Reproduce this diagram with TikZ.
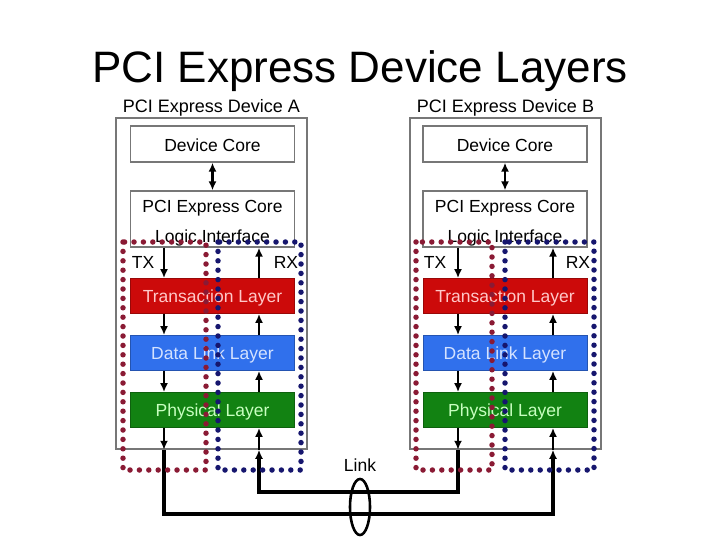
\documentclass[tikz,border=0pt]{standalone}
\usepackage{fontspec}
\setmainfont{Liberation Sans}
\usetikzlibrary{arrows.meta,shapes.geometric}
\definecolor{tlred}{HTML}{CC0A0A}
\definecolor{tltext}{HTML}{FFC8C8}
\definecolor{dlblue}{HTML}{3070EC}
\definecolor{dltext}{HTML}{D4E2FF}
\definecolor{plgreen}{HTML}{128212}
\definecolor{pltext}{HTML}{C8FFC0}
\definecolor{dotred}{HTML}{8A1A34}
\definecolor{dotblue}{HTML}{16166E}
\definecolor{boxgray}{HTML}{777777}
\tikzset{
  devbox/.style={draw=boxgray, line width=1.5pt, minimum width=191pt, minimum height=331pt, inner sep=0pt},
  corebox/.style={draw=boxgray, line width=1.3pt, fill=white, minimum width=164pt, inner sep=0pt, font=\fontsize{17.5}{20}\selectfont},
  layerbox/.style={draw=#1!75!black, line width=0.8pt, fill=#1, minimum width=164pt, minimum height=35pt, inner sep=0pt, text height=13pt, text depth=0pt, font=\fontsize{17.5}{20}\selectfont},
  lbl/.style={font=\fontsize{17.5}{20}\selectfont, anchor=base, inner sep=0pt},
  devlbl/.style={font=\fontsize{18}{21}\selectfont, anchor=base, inner sep=0pt},
  arr/.style={line width=2.6pt, -{Latex[length=9pt,width=8pt]}},
  dblarr/.style={line width=2.6pt, {Latex[length=9pt,width=8pt]}-{Latex[length=9pt,width=8pt]}},
  linkline/.style={line width=3.2pt, -{Latex[length=9pt,width=8pt]}},
  dotbox/.style={draw=#1, line width=5.5pt, line cap=round, dash pattern=on 0pt off 9.4pt}
}
\begin{document}
\begin{tikzpicture}[x=1pt,y=-1pt]
\useasboundingbox (0,0) rectangle (720,540);

% title
\node[font=\fontsize{44}{50}\selectfont, anchor=base, inner sep=0pt] (title) at (360,83) {PCI Express Device Layers};

% devices
\node[devbox] (devA) at (211.5,283.5) {};
\node[devbox] (devB) at (505.5,283.5) {};
\node[devlbl] (labA) at (211.5,113) {PCI Express Device A};
\node[devlbl] (labB) at (505.5,113) {PCI Express Device B};

% device A inner
\node[corebox, minimum height=36pt] (dcA) at (212.5,144) {};
\node[lbl] (dctA) at (212.5,152) {Device Core};
\node[corebox, minimum height=56pt] (pcA) at (212.5,219) {};
\node[lbl] (pctA) at (212.5,213) {PCI Express Core};
\node[lbl] (liA) at (212.5,243) {Logic Interface};
\node[layerbox=tlred, text=tltext] (tlA) at (212.5,296) {Transaction Layer};
\node[layerbox=dlblue, text=dltext] (dlA) at (212.5,353) {Data Link Layer};
\node[layerbox=plgreen, text=pltext] (plA) at (212.5,410) {Physical Layer};
\node[lbl] (txlA) at (143,268) {TX};
\node[lbl] (rxlA) at (286,268) {RX};

% device B inner
\node[corebox, minimum height=36pt] (dcB) at (505,144) {};
\node[lbl] (dctB) at (505,152) {Device Core};
\node[corebox, minimum height=56pt] (pcB) at (505,219) {};
\node[lbl] (pctB) at (505,213) {PCI Express Core};
\node[lbl] (liB) at (505,243) {Logic Interface};
\node[layerbox=tlred, text=tltext] (tlB) at (505,296) {Transaction Layer};
\node[layerbox=dlblue, text=dltext] (dlB) at (505,353) {Data Link Layer};
\node[layerbox=plgreen, text=pltext] (plB) at (505,410) {Physical Layer};
\node[lbl] (txlB) at (435,268) {TX};
\node[lbl] (rxlB) at (578,268) {RX};

% lane coordinates
\coordinate (txA) at (164,0);
\coordinate (rxA) at (259,0);
\coordinate (txB) at (458,0);
\coordinate (rxB) at (553,0);
\coordinate (lowOuter) at (0,514);
\coordinate (lowInner) at (0,492);

% core arrows
\draw[dblarr] (dcA) -- (pcA);
\draw[dblarr] (dcB) -- (pcB);

% TX / RX arrows, device A
\draw[arr] (pcA.south -| txA) -- (tlA.north -| txA);
\draw[arr] (tlA.south -| txA) -- (dlA.north -| txA);
\draw[arr] (dlA.south -| txA) -- (plA.north -| txA);
\draw[arr] (plA.south -| txA) -- (devA.south -| txA);
\draw[arr] (tlA.north -| rxA) -- (pcA.south -| rxA);
\draw[arr] (dlA.north -| rxA) -- (tlA.south -| rxA);
\draw[arr] (plA.north -| rxA) -- (dlA.south -| rxA);
\draw[arr] (devA.south -| rxA) -- (plA.south -| rxA);

% TX / RX arrows, device B
\draw[arr] (pcB.south -| txB) -- (tlB.north -| txB);
\draw[arr] (tlB.south -| txB) -- (dlB.north -| txB);
\draw[arr] (dlB.south -| txB) -- (plB.north -| txB);
\draw[arr] (plB.south -| txB) -- (devB.south -| txB);
\draw[arr] (tlB.north -| rxB) -- (pcB.south -| rxB);
\draw[arr] (dlB.north -| rxB) -- (tlB.south -| rxB);
\draw[arr] (plB.north -| rxB) -- (dlB.south -| rxB);
\draw[arr] (devB.south -| rxB) -- (plB.south -| rxB);

% link lines
\draw[linkline] (devA.south -| txA) -- (txA |- lowOuter) -- (rxB |- lowOuter) -- (devB.south -| rxB);
\draw[linkline] (devB.south -| txB) -- (txB |- lowInner) -- (rxA |- lowInner) -- (devA.south -| rxA);

% link ring
\node[draw, ellipse, line width=2.6pt, minimum width=20pt, minimum height=56pt, inner sep=0pt] (ring) at (360,507) {};
\node[lbl] (linklbl) at (360,471) {Link};

% dotted boxes
\draw[dotbox=dotred] (123,242) rectangle (206,470);
\draw[dotbox=dotblue] (218,242) rectangle (301,470);
\draw[dotbox=dotred] (416,242) rectangle (492,470);
\draw[dotbox=dotblue] (505,242) rectangle (594,470);
\end{tikzpicture}
\end{document}
